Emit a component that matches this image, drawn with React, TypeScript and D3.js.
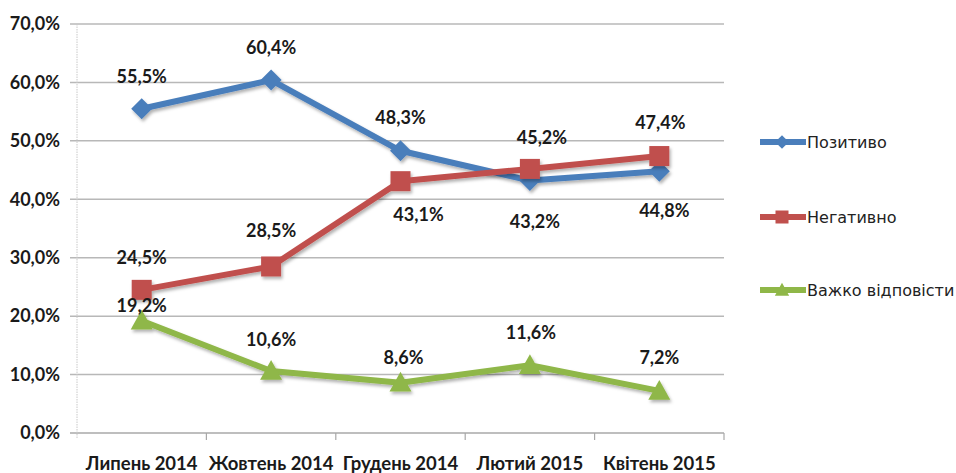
import React from "react";
import * as d3 from "d3";

const categories = ["Липень 2014", "Жовтень 2014", "Грудень 2014", "Лютий 2015", "Квітень 2015"];
const seriesNames = ["Позитиво", "Негативно", "Важко відповісти"];
const positive = [55.5, 60.4, 48.3, 43.2, 44.8];
const negative = [24.5, 28.5, 43.1, 45.2, 47.4];
const hard = [19.2, 10.6, 8.6, 11.6, 7.2];
const yTicks = [0, 10, 20, 30, 40, 50, 60, 70];

// layout: label offsets (px) relative to markers
const posLabelDx = [0, 0, 0, 5, 5];
const posLabelDy = [-32, -32, -33, 41, 39];
const negLabelDx = [0, 0, 18, 12, 1];
const negLabelDy = [-32, -36, 34, -31, -33];
const hardLabelDx = [0, 0, 3, 1, 0];
const hardLabelDy = [-15, -31, -25, -33, -33];

const W = 956;
const H = 473;
const left = 77;
const right = 724;
const top = 24;
const bottom = 433;

const fmt = (v: number) => v.toFixed(1).replace(".", ",") + "%";

function Marker({ kind, x, y, color, k = 1 }: { kind: string; x: number; y: number; color: string; k?: number }) {
  if (kind === "diamond") {
    const s = 10.5 * k;
    return <path d={`M${x},${y - s}L${x + s},${y}L${x},${y + s}L${x - s},${y}Z`} fill={color} />;
  }
  if (kind === "square") {
    const s = 10 * k;
    return <rect x={x - s} y={y - s} width={2 * s} height={2 * s} fill={color} />;
  }
  const s = 11 * k;
  return <path d={`M${x},${y - s}L${x + s},${y + s * 0.8}L${x - s},${y + s * 0.8}Z`} fill={color} />;
}

export default function App() {
  const x = d3.scaleBand<string>().domain(categories).range([left, right]);
  const y = d3.scaleLinear().domain([0, 70]).range([bottom, top]);
  const cx = (c: string) => (x(c) as number) + x.bandwidth() / 2;
  const line = d3
    .line<number>()
    .x((_, i) => cx(categories[i]))
    .y((d) => y(d));

  const series = [
    { name: seriesNames[0], values: positive, color: "#4a7ebb", marker: "diamond", dx: posLabelDx, dy: posLabelDy },
    { name: seriesNames[1], values: negative, color: "#c0504d", marker: "square", dx: negLabelDx, dy: negLabelDy },
    { name: seriesNames[2], values: hard, color: "#8fb748", marker: "triangle", dx: hardLabelDx, dy: hardLabelDy },
  ];
  const legendY = [142, 217, 290];
  const boundaries = d3.range(categories.length + 1).map((i) => left + i * x.bandwidth());

  const labelFont = "Lato, 'Open Sans', sans-serif";

  return (
    <svg width={W} height={H} style={{ position: "absolute", left: 0, top: 0, background: "#fff" }}>
      <defs>
        <filter id="sh" x="-10%" y="-10%" width="130%" height="140%">
          <feDropShadow dx="1.5" dy="2.5" stdDeviation="1.5" floodColor="#000" floodOpacity="0.3" />
        </filter>
      </defs>
      {yTicks.map((t) => (
        <g key={t}>
          <line x1={70} x2={right} y1={y(t)} y2={y(t)} stroke={t === 0 ? "#a8a8a8" : "#b8b8b8"} strokeWidth={1.5} />
          <text
            x={60}
            y={y(t)}
            dy="0.35em"
            textAnchor="end"
            fontFamily={labelFont}
            fontWeight={700}
            fontSize={18}
            fill="#1a1a1a"
          >
            {fmt(t)}
          </text>
        </g>
      ))}
      <line x1={left} x2={left} y1={top} y2={bottom + 6} stroke="#c8c8c8" strokeWidth={1} strokeDasharray="1.5,1" />
      {boundaries.slice(1).map((b, i) => (
        <line key={i} x1={b} x2={b} y1={bottom} y2={bottom + 7} stroke="#a8a8a8" strokeWidth={1.2} />
      ))}
      {categories.map((c) => (
        <text
          key={c}
          x={cx(c)}
          y={464}
          dy="0.35em"
          textAnchor="middle"
          fontFamily={labelFont}
          fontWeight={700}
          fontSize={18.5}
          fill="#1a1a1a"
        >
          {c}
        </text>
      ))}
      {series.map((s) => (
        <g key={s.name} filter="url(#sh)">
          <path d={line(s.values) || ""} fill="none" stroke={s.color} strokeWidth={6} strokeLinejoin="round" />
          {s.values.map((v, i) => (
            <Marker key={i} kind={s.marker} x={cx(categories[i])} y={y(v)} color={s.color} />
          ))}
        </g>
      ))}
      {series.map((s) =>
        s.values.map((v, i) => (
          <text
            key={s.name + i}
            x={cx(categories[i]) + s.dx[i]}
            y={y(v) + s.dy[i]}
            dy="0.35em"
            textAnchor="middle"
            fontFamily={labelFont}
            fontWeight={700}
            fontSize={18}
            fill="#1a1a1a"
          >
            {fmt(v)}
          </text>
        ))
      )}
      {series.map((s, i) => (
        <g key={s.name}>
          <line x1={760} x2={806} y1={legendY[i]} y2={legendY[i]} stroke={s.color} strokeWidth={6} />
          <Marker kind={s.marker} x={782} y={legendY[i]} color={s.color} k={0.65} />
          <text
            x={807}
            y={legendY[i]}
            dy="0.35em"
            fontFamily="'DejaVu Sans', sans-serif"
            fontSize={16}
            fill="#222"
          >
            {s.name}
          </text>
        </g>
      ))}
    </svg>
  );
}
